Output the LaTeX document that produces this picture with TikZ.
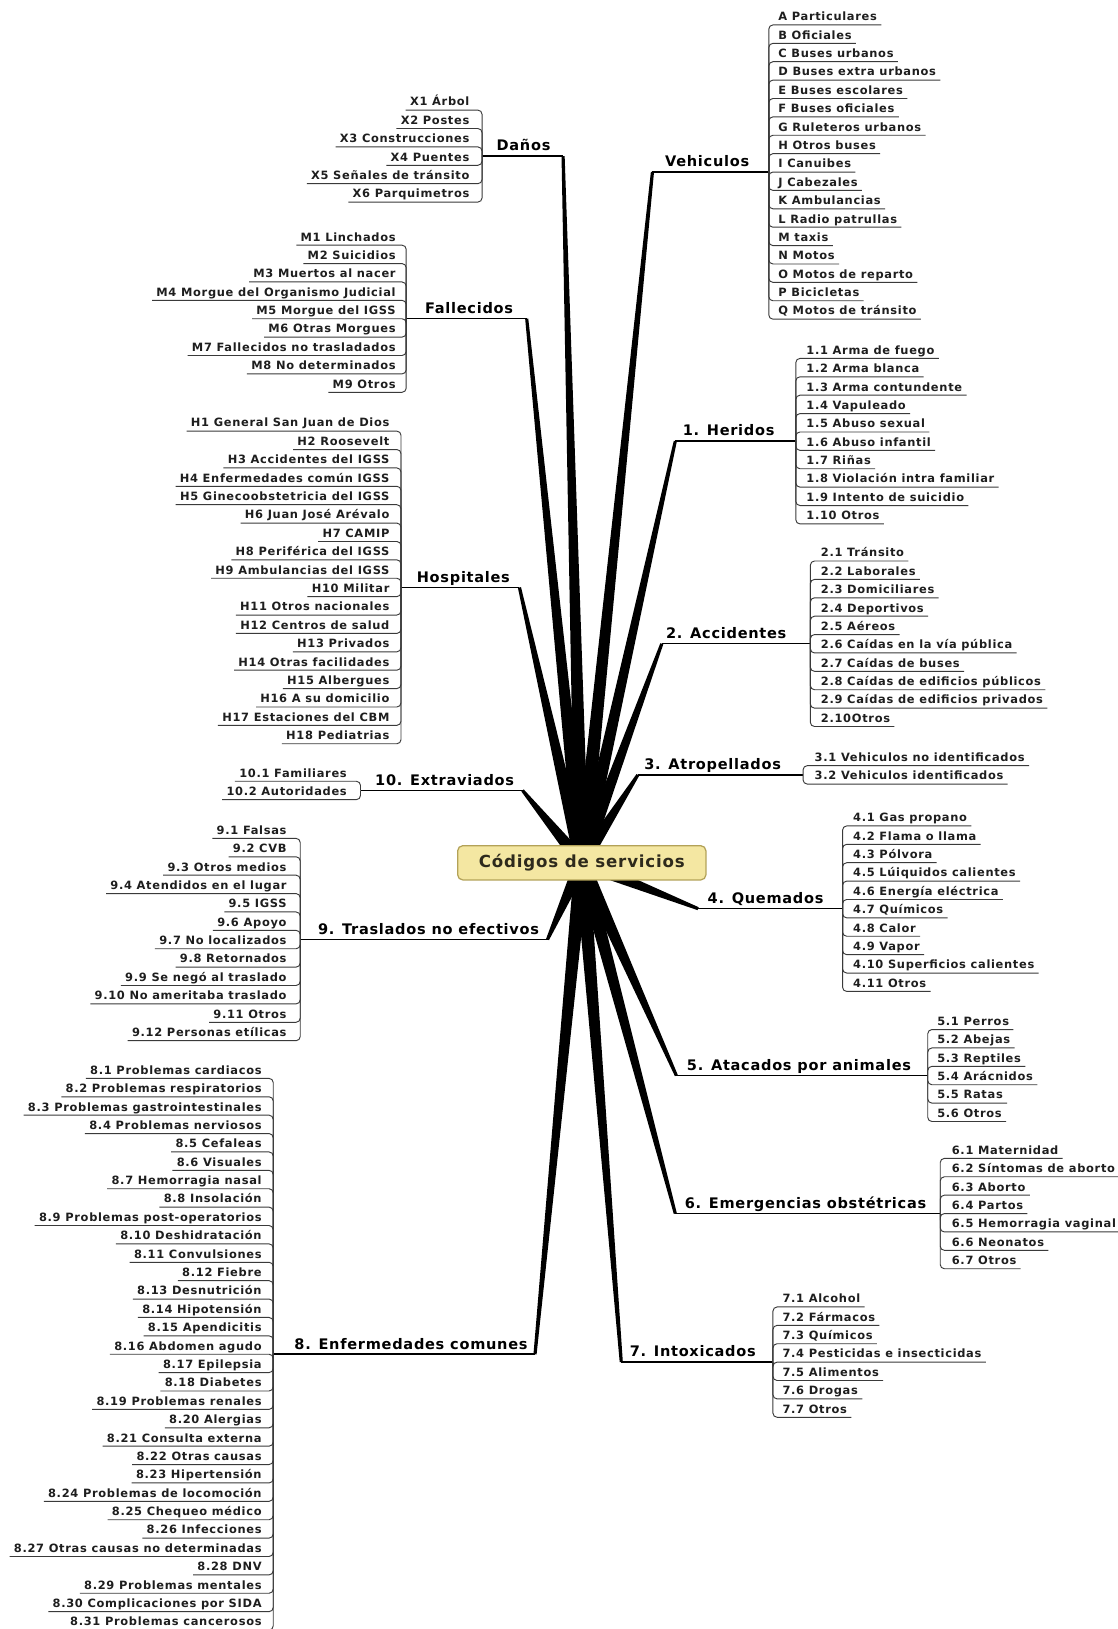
\documentclass[tikz,border=0pt]{standalone}
\usepackage{fontspec}
\setmainfont{DejaVu Sans}
\newfontfamily\itemfont[LetterSpace=6]{DejaVu Sans}
\newfontfamily\topicfont[LetterSpace=5]{DejaVu Sans}
\usetikzlibrary{calc}

\definecolor{itemtext}{HTML}{1E1E1E}
\definecolor{subline}{HTML}{3A3A3A}
\definecolor{boxfill}{HTML}{F4E7A2}
\definecolor{boxborder}{HTML}{B3A258}
\definecolor{boxtext}{HTML}{2E2A1C}

\tikzset{
  item/.style={inner sep=0pt, text=itemtext,
    font=\itemfont\bfseries\fontsize{11}{13}\selectfont},
  topic/.style={inner sep=0pt, text=black,
    font=\topicfont\bfseries\fontsize{14}{16}\selectfont},
  centerbox/.style={draw=boxborder, fill=boxfill, line width=1.2pt,
    rounded corners=5pt, minimum width=239pt, minimum height=33pt,
    text=boxtext, font=\topicfont\bfseries\fontsize{16}{19}\selectfont},
  sub/.style={draw=subline, line width=0.9pt, rounded corners=4pt},
  mainline/.style={draw=black, line width=1.4pt},
  branchfill/.style={fill=black},
}

% items hanging to the right of a bracket at x=#2
\newcommand\rightitems[6]{%
  \foreach \t [count=\i] in {#6} {
    \node[item, anchor=base west] (#1-\i) at (#3, {#4+4+(\i-1)*17.7}) {\t};
    \draw[sub] (#2,#5) |- ($(#1-\i.base east)+(4,4)$);
  }%
}
% items hanging to the left of a bracket at x=#2
\newcommand\leftitems[6]{%
  \foreach \t [count=\i] in {#6} {
    \node[item, anchor=base east] (#1-\i) at (#3, {#4+4+(\i-1)*17.7}) {\t};
    \draw[sub] (#2,#5) |- ($(#1-\i.base west)+(-4,4)$);
  }%
}
% tapered branch from the centre to a topic
\newcommand\branchwedge[1]{%
  \fill[branchfill] ($(c)!7pt!90:(#1)$) -- ($(#1)!1.5pt!-90:(c)$)
    -- ($(#1)!1.5pt!90:(c)$) -- ($(c)!7pt!-90:(#1)$) -- cycle;
}

\begin{document}
\begin{tikzpicture}[x=1pt,y=-1pt]
\useasboundingbox (0,0) rectangle (1076,1568);
\fill[white] (0,0) rectangle (1076,1568);

\coordinate (c) at (560,830.5);

% ends of the branches (start of each topic underline)
\coordinate (e-veh) at (628,165.6);
\coordinate (e-her) at (650,424.65);
\coordinate (e-acc) at (637,619.65);
\coordinate (e-atr) at (614,745.85);
\coordinate (e-que) at (672,874.65);
\coordinate (e-ata) at (651,1035.25);
\coordinate (e-eme) at (650,1168.1);
\coordinate (e-int) at (598,1311.1);
\coordinate (e-dan) at (542,150.25);
\coordinate (e-fal) at (507,306.8);
\coordinate (e-hos) at (500,565.45);
\coordinate (e-ext) at (503,760.85);
\coordinate (e-tra) at (527,904.35);
\coordinate (e-enf) at (515,1303.5);

% brackets
\coordinate (b-veh) at (740,165.6);
\coordinate (b-her) at (766,424.65);
\coordinate (b-acc) at (780,619.65);
\coordinate (b-atr) at (773,745.85);
\coordinate (b-que) at (811,874.65);
\coordinate (b-ata) at (893,1035.25);
\coordinate (b-eme) at (905,1168.1);
\coordinate (b-int) at (744,1311.1);
\coordinate (b-dan) at (464,150.25);
\coordinate (b-fal) at (391,306.8);
\coordinate (b-hos) at (386,565.45);
\coordinate (b-ext) at (347,760.85);
\coordinate (b-tra) at (289,904.35);
\coordinate (b-enf) at (263,1303.5);

\foreach \e in {veh,her,acc,atr,que,ata,eme,int,dan,fal,hos,ext,tra,enf}
  {\branchwedge{e-\e}}

\node[centerbox] (root) at (c) {Códigos de servicios};

% topic labels and their underlines
\node[topic, anchor=base west] (t-veh) at (640,160.6) {Vehiculos};
\node[topic, anchor=base west] (t-her) at (657,419.6) {1. Heridos};
\node[topic, anchor=base west] (t-acc) at (641,614.6) {2. Accidentes};
\node[topic, anchor=base west] (t-atr) at (620,740.8) {3. Atropellados};
\node[topic, anchor=base west] (t-que) at (681,869.6) {4. Quemados};
\node[topic, anchor=base west] (t-ata) at (661,1030.2) {5. Atacados por animales};
\node[topic, anchor=base west] (t-eme) at (659,1163.1) {6. Emergencias obstétricas};
\node[topic, anchor=base west] (t-int) at (606,1306.1) {7. Intoxicados};
\node[topic, anchor=base east] (t-dan) at (530,145.2) {Daños};
\node[topic, anchor=base east] (t-fal) at (494,301.8) {Fallecidos};
\node[topic, anchor=base east] (t-hos) at (491,560.4) {Hospitales};
\node[topic, anchor=base east] (t-ext) at (495,755.8) {10. Extraviados};
\node[topic, anchor=base east] (t-tra) at (519,899.3) {9. Traslados no efectivos};
\node[topic, anchor=base east] (t-enf) at (508,1298.5) {8. Enfermedades comunes};

\foreach \e in {veh,her,acc,atr,que,ata,eme,int,dan,fal,hos,ext,tra,enf}
  {\draw[mainline] (e-\e) -- (b-\e);}

% sub-items
\rightitems{veh}{740}{749}{16}{165.6}{A Particulares,B Oficiales,C Buses urbanos,
  D Buses extra urbanos,E Buses escolares,F Buses oficiales,G Ruleteros urbanos,
  H Otros buses,I Canuibes,J Cabezales,K Ambulancias,L Radio patrullas,M taxis,
  N Motos,O Motos de reparto,P Bicicletas,Q Motos de tránsito}
\rightitems{her}{766}{776}{337}{424.65}{1.1 Arma de fuego,1.2 Arma blanca,
  1.3 Arma contundente,1.4 Vapuleado,1.5 Abuso sexual,1.6 Abuso infantil,
  1.7 Riñas,1.8 Violación intra familiar,1.9 Intento de suicidio,1.10 Otros}
\rightitems{acc}{780}{790}{532}{619.65}{2.1 Tránsito,2.2 Laborales,2.3 Domiciliares,
  2.4 Deportivos,2.5 Aéreos,2.6 Caídas en la vía pública,2.7 Caídas de buses,
  2.8 Caídas de edificios públicos,2.9 Caídas de edificios privados,2.10Otros}
\rightitems{atr}{773}{784}{729}{745.85}{3.1 Vehiculos no identificados,
  3.2 Vehiculos identificados}
\rightitems{que}{811}{821}{787}{874.65}{4.1 Gas propano,4.2 Flama o llama,
  4.3 Pólvora,4.5 Lúiquidos calientes,4.6 Energía eléctrica,4.7 Químicos,
  4.8 Calor,4.9 Vapor,4.10 Superficios calientes,4.11 Otros}
\rightitems{ata}{893}{902}{983}{1035.25}{5.1 Perros,5.2 Abejas,5.3 Reptiles,
  5.4 Arácnidos,5.5 Ratas,5.6 Otros}
\rightitems{eme}{905}{916}{1107}{1168.1}{6.1 Maternidad,6.2 Síntomas de aborto,
  6.3 Aborto,6.4 Partos,6.5 Hemorragia vaginal,6.6 Neonatos,6.7 Otros}
\rightitems{int}{744}{753}{1250}{1311.1}{7.1 Alcohol,7.2 Fármacos,7.3 Químicos,
  7.4 Pesticidas e insecticidas,7.5 Alimentos,7.6 Drogas,7.7 Otros}

\leftitems{dan}{464}{452}{98}{150.25}{X1 Árbol,X2 Postes,X3 Construcciones,
  X4 Puentes,X5 Señales de tránsito,X6 Parquimetros}
\leftitems{fal}{391}{381}{228}{306.8}{M1 Linchados,M2 Suicidios,M3 Muertos al nacer,
  M4 Morgue del Organismo Judicial,M5 Morgue del IGSS,M6 Otras Morgues,
  M7 Fallecidos no trasladados,M8 No determinados,M9 Otros}
\leftitems{hos}{386}{375}{407}{565.45}{H1 General San Juan de Dios,H2 Roosevelt,
  H3 Accidentes del IGSS,H4 Enfermedades común IGSS,H5 Ginecoobstetricia del IGSS,
  H6 Juan José Arévalo,H7 CAMIP,H8 Periférica del IGSS,H9 Ambulancias del IGSS,
  H10 Militar,H11 Otros nacionales,H12 Centros de salud,H13 Privados,
  H14 Otras facilidades,H15 Albergues,H16 A su domicilio,H17 Estaciones del CBM,
  H18 Pediatrias}
\leftitems{ext}{347}{334}{744}{760.85}{10.1 Familiares,10.2 Autoridades}
\leftitems{tra}{289}{276}{799}{904.35}{9.1 Falsas,9.2 CVB,9.3 Otros medios,
  9.4 Atendidos en el lugar,9.5 IGSS,9.6 Apoyo,9.7 No localizados,9.8 Retornados,
  9.9 Se negó al traslado,9.10 No ameritaba traslado,9.11 Otros,
  9.12 Personas etílicas}
\leftitems{enf}{263}{252}{1030}{1303.5}{8.1 Problemas cardiacos,
  8.2 Problemas respiratorios,8.3 Problemas gastrointestinales,
  8.4 Problemas nerviosos,8.5 Cefaleas,8.6 Visuales,8.7 Hemorragia nasal,
  8.8 Insolación,8.9 Problemas post-operatorios,8.10 Deshidratación,
  8.11 Convulsiones,8.12 Fiebre,8.13 Desnutrición,8.14 Hipotensión,
  8.15 Apendicitis,8.16 Abdomen agudo,8.17 Epilepsia,8.18 Diabetes,
  8.19 Problemas renales,8.20 Alergias,8.21 Consulta externa,8.22 Otras causas,
  8.23 Hipertensión,8.24 Problemas de locomoción,8.25 Chequeo médico,
  8.26 Infecciones,8.27 Otras causas no determinadas,8.28 DNV,
  8.29 Problemas mentales,8.30 Complicaciones por SIDA,8.31 Problemas cancerosos}
\end{tikzpicture}
\end{document}
